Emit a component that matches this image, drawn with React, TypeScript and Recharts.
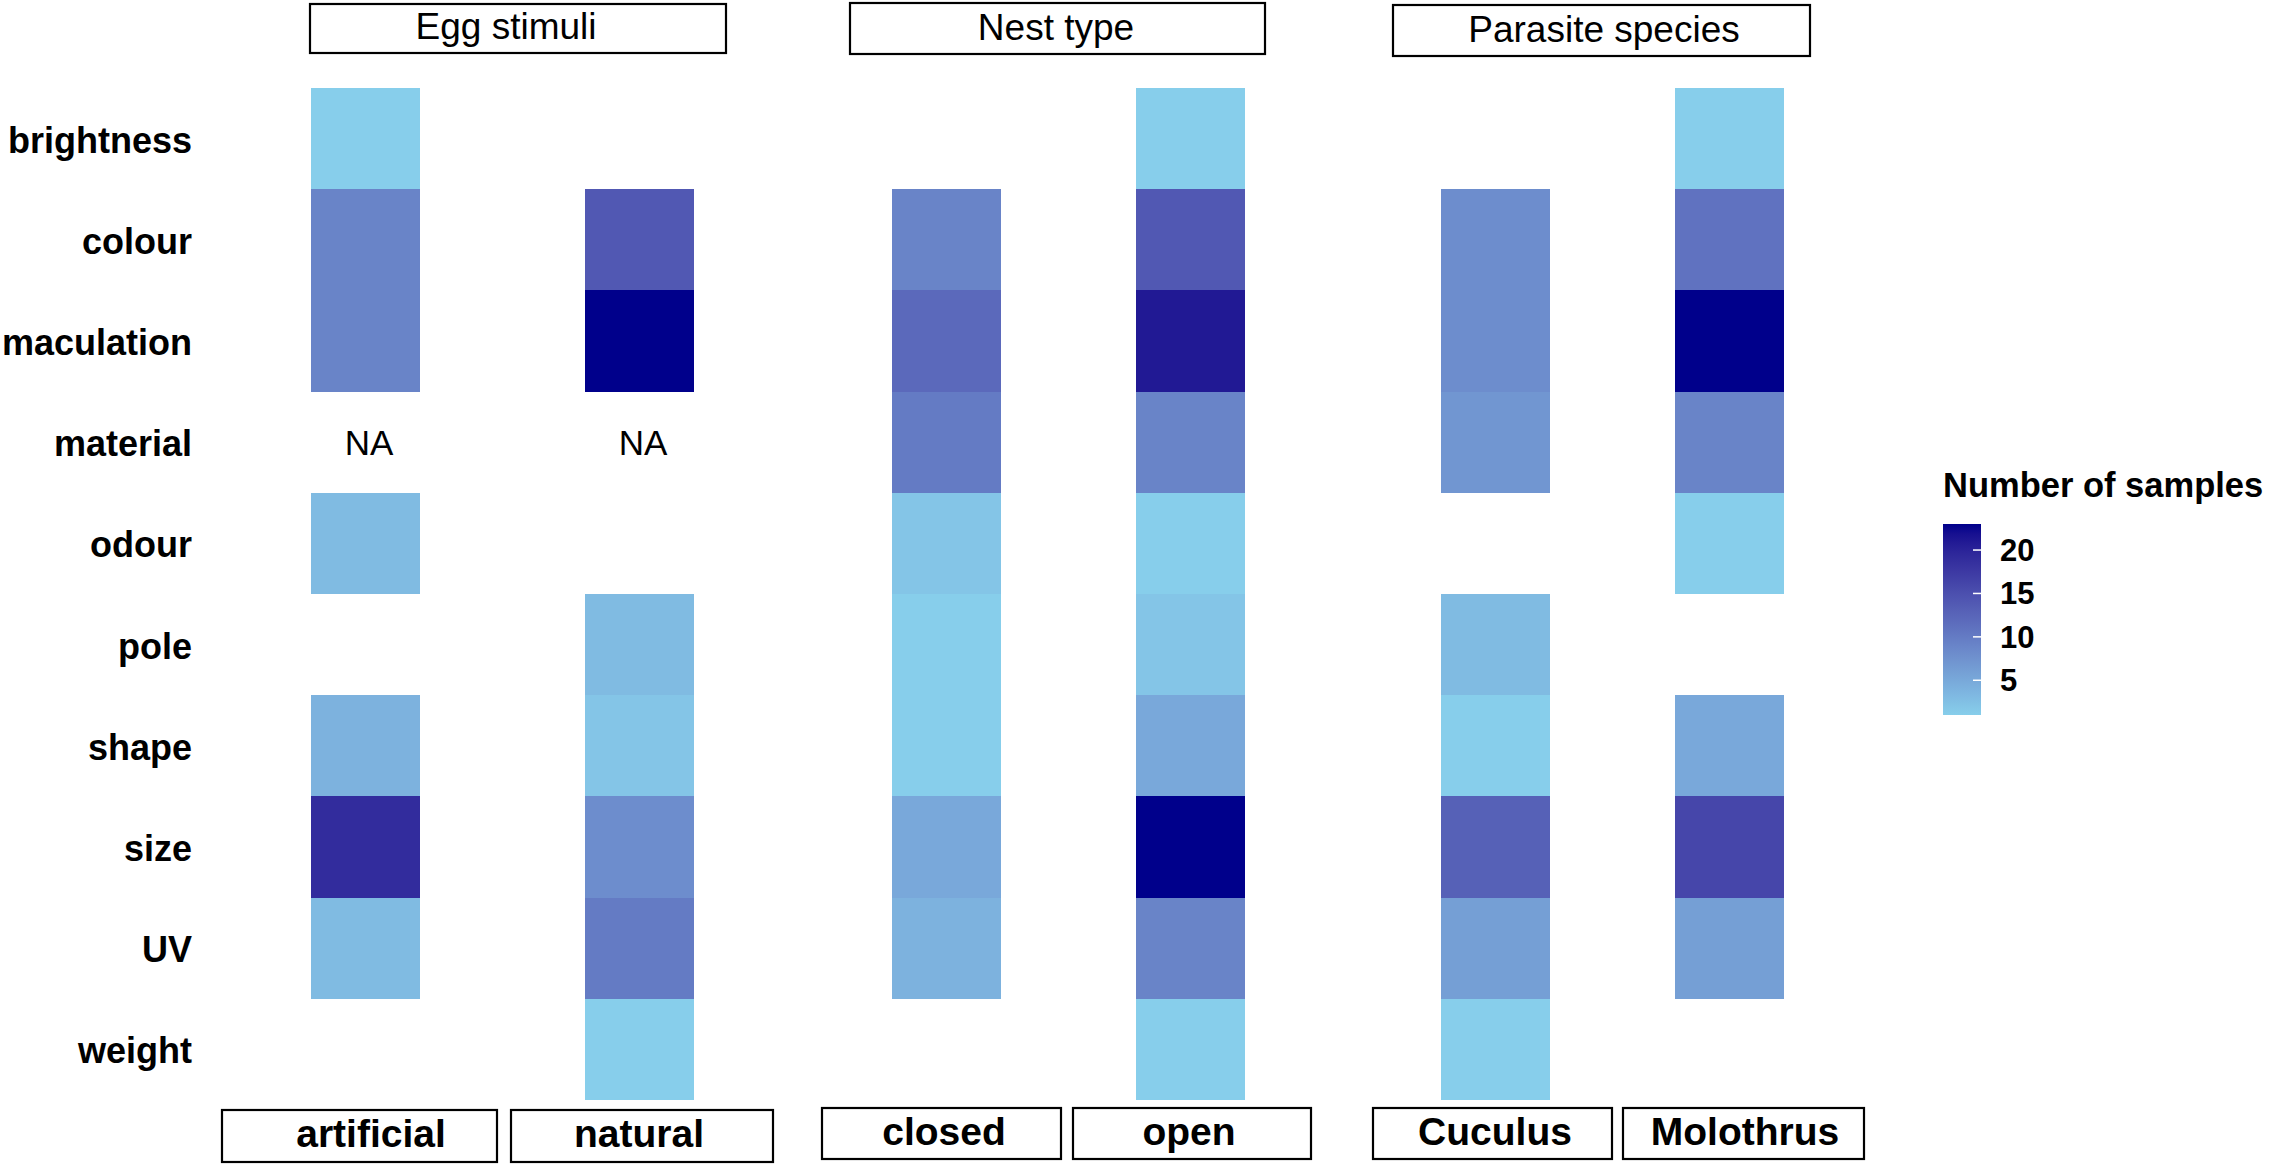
import React from "react";
import { ScatterChart, Scatter, XAxis, YAxis } from "recharts";

// Number of samples per egg attribute, split three ways.
// null = nothing studied (blank cell), "NA" = not applicable (printed as text)
const ATTRIBUTES = ["brightness", "colour", "maculation", "material", "odour", "pole", "shape", "size", "UV", "weight"];

const artificial = [1, 9, 9, "NA", 3, null, 4, 19, 3, null];
const natural = [null, 14, 23, "NA", null, 3, 2, 8, 10, 1];
const closed = [null, 9, 12, 10, 2, 1, 1, 5, 4, null];
const open = [1, 14, 21, 9, 1, 2, 5, 23, 9, 1];
const cuculus = [null, 8, 8, 7, null, 3, 1, 13, 6, 1];
const molothrus = [1, 11, 23, 9, 1, null, 5, 16, 6, null];

const FILL_LIMITS = [1, 23];
const LEGEND_TICKS = [5, 10, 15, 20];
const LOW = "#87CEEB";
const HIGH = "#00008B";

const FONT = "'Liberation Sans', Arial, Helvetica, sans-serif";
const W = 2277;
const H = 1165;
const PLOT_TOP = 88;
const PLOT_BOTTOM = 1100;
const ROW_H = (PLOT_BOTTOM - PLOT_TOP) / ATTRIBUTES.length;
const CELL_W = 109;

// ---- colour ramp in CIELAB, like ggplot's scale_fill_gradient ----
const WHITE = [0.95047, 1, 1.08883];
const toLin = (c: number) => {
  c /= 255;
  return c <= 0.04045 ? c / 12.92 : Math.pow((c + 0.055) / 1.055, 2.4);
};
const fromLin = (c: number) => {
  const v = c <= 0.0031308 ? 12.92 * c : 1.055 * Math.pow(Math.max(c, 0), 1 / 2.4) - 0.055;
  return Math.round(Math.max(0, Math.min(1, v)) * 255);
};
function hexToLab(hex: string) {
  const r = toLin(parseInt(hex.slice(1, 3), 16));
  const g = toLin(parseInt(hex.slice(3, 5), 16));
  const b = toLin(parseInt(hex.slice(5, 7), 16));
  const xyz = [
    0.4124 * r + 0.3576 * g + 0.1805 * b,
    0.2126 * r + 0.7152 * g + 0.0722 * b,
    0.0193 * r + 0.1192 * g + 0.9505 * b,
  ].map((v, i) => v / WHITE[i]);
  const f = xyz.map((t) => (t > 0.008856 ? Math.cbrt(t) : 7.787 * t + 16 / 116));
  return [116 * f[1] - 16, 500 * (f[0] - f[1]), 200 * (f[1] - f[2])];
}
function labToHex([L, a, b]: number[]) {
  const fy = (L + 16) / 116;
  const fx = fy + a / 500;
  const fz = fy - b / 200;
  const inv = (t: number) => (t > 0.206893 ? t * t * t : (t - 16 / 116) / 7.787);
  const x = inv(fx) * WHITE[0];
  const y = inv(fy) * WHITE[1];
  const z = inv(fz) * WHITE[2];
  const rgb = [
    3.2406 * x - 1.5372 * y - 0.4986 * z,
    -0.9689 * x + 1.8758 * y + 0.0415 * z,
    0.0557 * x - 0.204 * y + 1.057 * z,
  ];
  return "#" + rgb.map((c) => fromLin(c).toString(16).padStart(2, "0")).join("");
}
const LOW_LAB = hexToLab(LOW);
const HIGH_LAB = hexToLab(HIGH);
function fillFor(v: number) {
  const t = Math.max(0, Math.min(1, (v - FILL_LIMITS[0]) / (FILL_LIMITS[1] - FILL_LIMITS[0])));
  return labToHex(LOW_LAB.map((l, i) => l + (HIGH_LAB[i] - l) * t));
}

// ---- panel layout (strip boxes: left, right, text shift — offsets from the category centre) ----
// chart left edge = left; plot starts at left + padLeft (+ axisWidth)
const PANELS = [
  {
    groups: [["artificial", artificial], ["natural", natural]],
    left: 0,
    width: 776,
    padLeft: 0,
    right: 0,
    axisWidth: 228,
    boxes: [[-143, 132, 6], [-128, 134, 0]],
    boxY: [10, 62],
    baseline: 47,
  },
  {
    groups: [["closed", closed], ["open", open]],
    left: 809,
    width: 513,
    padLeft: 15,
    right: 10,
    axisWidth: 0,
    boxes: [[-124, 115, -2], [-117, 121, -1]],
    boxY: [8, 59],
    baseline: 45,
  },
  {
    groups: [["Cuculus", cuculus], ["Molothrus", molothrus]],
    left: 1363,
    width: 513,
    padLeft: 15,
    right: 30,
    axisWidth: 0,
    boxes: [[-122, 117, 0], [-106, 135, 16]],
    boxY: [8, 59],
    baseline: 45,
  },
];

const TOP_STRIPS = [
  { label: "Egg stimuli", x0: 310, x1: 726, y0: 4, y1: 53, tx: 506, ty: 39 },
  { label: "Nest type", x0: 850, x1: 1265, y0: 3, y1: 54, tx: 1056, ty: 40 },
  { label: "Parasite species", x0: 1393, x1: 1810, y0: 5, y1: 56, tx: 1604, ty: 42 },
];

const CellShape = (props: any) => {
  const { cx, cy, payload } = props;
  const n = payload?.n;
  if (n === null || n === undefined || cx == null || cy == null) return <g />;
  if (n === "NA") {
    return (
      <text x={cx + 4} y={cy} dy={12.5} textAnchor="middle" fontSize={35} fontFamily={FONT} fill="#000">
        NA
      </text>
    );
  }
  return (
    <rect
      x={cx - CELL_W / 2}
      y={cy - ROW_H / 2}
      width={CELL_W}
      height={ROW_H}
      fill={fillFor(n)}
      shapeRendering="crispEdges"
    />
  );
};

const RowTick = (props: any) => {
  const { x, y, payload } = props;
  return (
    <text x={x} y={y} dy={14} textAnchor="end" fontSize={36} fontWeight="bold" fontFamily={FONT} fill="#000">
      {payload.value}
    </text>
  );
};

function makeStripTick(boxes: number[][], boxY: number[], baseline: number) {
  return (props: any) => {
    const { x, y, payload, index } = props;
    const [dl, dr, tdx] = boxes[index] || [-110, 110, 0];
    return (
      <g>
        <rect
          x={x + dl}
          y={y + boxY[0]}
          width={dr - dl}
          height={boxY[1] - boxY[0]}
          fill="#fff"
          stroke="#000"
          strokeWidth={2.2}
        />
        <text
          x={x + tdx}
          y={y + baseline}
          textAnchor="middle"
          fontSize={39}
          fontWeight="bold"
          fontFamily={FONT}
          fill="#000"
        >
          {payload.value}
        </text>
      </g>
    );
  };
}

function Panel({ panel }: { panel: (typeof PANELS)[number] }) {
  const data = panel.groups.flatMap(([group, vals]: any) =>
    ATTRIBUTES.map((attr, i) => ({ group, attr, n: vals[i] }))
  );
  const showLabels = panel.axisWidth > 0;
  return (
    <div style={{ position: "absolute", left: panel.left, top: 0 }}>
      <ScatterChart
        width={panel.width}
        height={H}
        margin={{ top: PLOT_TOP, right: panel.right, bottom: 0, left: panel.padLeft }}
      >
        <XAxis
          type="category"
          dataKey="group"
          allowDuplicatedCategory={false}
          axisLine={false}
          tickLine={false}
          tickSize={0}
          tickMargin={0}
          interval={0}
          height={H - PLOT_BOTTOM}
          tick={makeStripTick(panel.boxes, panel.boxY, panel.baseline)}
        />
        <YAxis
          type="category"
          dataKey="attr"
          allowDuplicatedCategory={false}
          reversed
          hide={!showLabels}
          width={showLabels ? panel.axisWidth : 0}
          axisLine={false}
          tickLine={false}
          tickSize={0}
          tickMargin={36}
          interval={0}
          tick={RowTick}
        />
        <Scatter data={data} shape={CellShape} isAnimationActive={false} />
      </ScatterChart>
    </div>
  );
}

// legend geometry
const BAR = { x0: 1943, x1: 1981, y0: 524, y1: 715 };
const barY = (v: number) =>
  BAR.y1 - ((v - FILL_LIMITS[0]) / (FILL_LIMITS[1] - FILL_LIMITS[0])) * (BAR.y1 - BAR.y0);

function Overlay() {
  const stops = Array.from({ length: 21 }, (_, i) => i / 20);
  return (
    <svg width={W} height={H} style={{ position: "absolute", left: 0, top: 0, pointerEvents: "none" }}>
      <defs>
        <linearGradient id="fillbar" x1="0" y1="1" x2="0" y2="0">
          {stops.map((t) => (
            <stop
              key={t}
              offset={t}
              stopColor={fillFor(FILL_LIMITS[0] + t * (FILL_LIMITS[1] - FILL_LIMITS[0]))}
            />
          ))}
        </linearGradient>
      </defs>
      {TOP_STRIPS.map((s) => (
        <g key={s.label}>
          <rect x={s.x0} y={s.y0} width={s.x1 - s.x0} height={s.y1 - s.y0} fill="#fff" stroke="#000" strokeWidth={2.2} />
          <text x={s.tx} y={s.ty} textAnchor="middle" fontSize={37} fontFamily={FONT} fill="#000">
            {s.label}
          </text>
        </g>
      ))}
      <text x={1943} y={497} fontSize={34.5} fontWeight="bold" fontFamily={FONT} fill="#000">
        Number of samples
      </text>
      <rect x={BAR.x0} y={BAR.y0} width={BAR.x1 - BAR.x0} height={BAR.y1 - BAR.y0} fill="url(#fillbar)" />
      {LEGEND_TICKS.map((v) => (
        <g key={v}>
          <line x1={BAR.x1 - 8} x2={BAR.x1} y1={barY(v)} y2={barY(v)} stroke="#fff" strokeWidth={1.5} />
          <text x={2000} y={barY(v)} dy={11} fontSize={31} fontWeight="bold" fontFamily={FONT} fill="#000">
            {v}
          </text>
        </g>
      ))}
    </svg>
  );
}

export default function App() {
  return (
    <div style={{ position: "relative", width: W, height: H, background: "#fff", overflow: "hidden" }}>
      <style>{"body{margin:0;}"}</style>
      {PANELS.map((p, i) => (
        <Panel key={i} panel={p} />
      ))}
      <Overlay />
    </div>
  );
}
